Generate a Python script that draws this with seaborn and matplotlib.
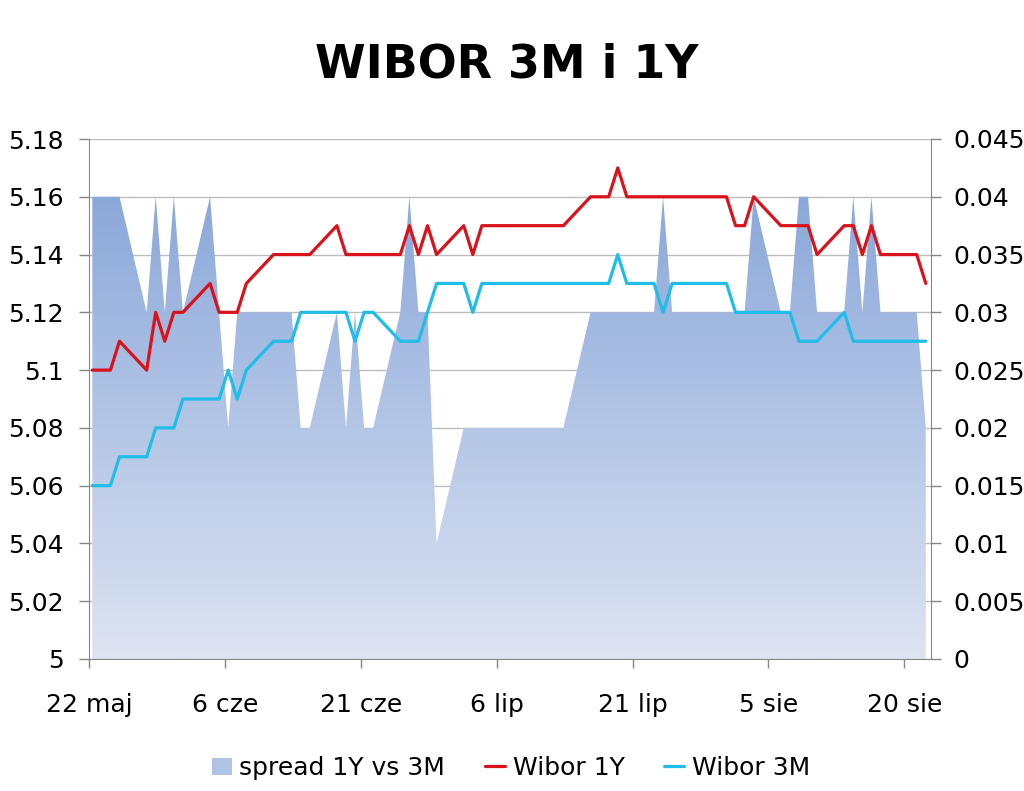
import numpy as np
import pandas as pd
import matplotlib
matplotlib.use('Agg')
import matplotlib.pyplot as plt
import matplotlib.dates as mdates
from matplotlib.colors import LinearSegmentedColormap
from matplotlib.patches import Patch
from matplotlib.lines import Line2D
import seaborn as sns

# --- data (business days 22 May - 22 Aug 2012) ---
dates = pd.bdate_range('2012-05-22', '2012-08-22')

wibor_1y = [
    5.10, 5.10, 5.10, 5.11, 5.10, 5.12, 5.11, 5.12,                      # maj
    5.12, 5.13, 5.12, 5.12, 5.12, 5.13, 5.14, 5.14, 5.14, 5.14, 5.14,
    5.15, 5.14, 5.14, 5.14, 5.14, 5.14, 5.15, 5.14, 5.15, 5.14,          # cze
    5.15, 5.14, 5.15, 5.15, 5.15, 5.15, 5.15, 5.15, 5.15, 5.15,
    5.16, 5.16, 5.16, 5.17, 5.16, 5.16, 5.16, 5.16, 5.16, 5.16, 5.16, 5.16,  # lip
    5.15, 5.15, 5.16, 5.15, 5.15, 5.15, 5.15, 5.14, 5.15, 5.15, 5.14,
    5.15, 5.14, 5.14, 5.14, 5.13,                                        # sie
]

wibor_3m = [
    5.06, 5.06, 5.06, 5.07, 5.07, 5.08, 5.08, 5.08,
    5.09, 5.09, 5.09, 5.10, 5.09, 5.10, 5.11, 5.11, 5.11, 5.12, 5.12,
    5.12, 5.12, 5.11, 5.12, 5.12, 5.11, 5.11, 5.11, 5.12, 5.13,
    5.13, 5.12, 5.13, 5.13, 5.13, 5.13, 5.13, 5.13, 5.13, 5.13,
    5.13, 5.13, 5.13, 5.14, 5.13, 5.13, 5.12, 5.13, 5.13, 5.13, 5.13, 5.13,
    5.12, 5.12, 5.12, 5.12, 5.12, 5.11, 5.11, 5.11, 5.12, 5.11, 5.11,
    5.11, 5.11, 5.11, 5.11, 5.11,
]

spread = [
    0.04, 0.04, 0.04, 0.04, 0.03, 0.04, 0.03, 0.04,
    0.03, 0.04, 0.03, 0.02, 0.03, 0.03, 0.03, 0.03, 0.03, 0.02, 0.02,
    0.03, 0.02, 0.03, 0.02, 0.02, 0.03, 0.04, 0.03, 0.03, 0.01,
    0.02, 0.02, 0.02, 0.02, 0.02, 0.02, 0.02, 0.02, 0.02, 0.02,
    0.03, 0.03, 0.03, 0.03, 0.03, 0.03, 0.04, 0.03, 0.03, 0.03, 0.03, 0.03,
    0.03, 0.03, 0.04, 0.03, 0.03, 0.04, 0.04, 0.03, 0.03, 0.04, 0.03,
    0.04, 0.03, 0.03, 0.03, 0.02,
]

tick_dates = pd.to_datetime(['2012-05-22', '2012-06-06', '2012-06-21', '2012-07-06',
                             '2012-07-21', '2012-08-05', '2012-08-20'])
tick_labels = ['22 maj', '6 cze', '21 cze', '6 lip', '21 lip', '5 sie', '20 sie']

rate_ticks = [5.0, 5.02, 5.04, 5.06, 5.08, 5.10, 5.12, 5.14, 5.16, 5.18]
rate_labels = ['5', '5.02', '5.04', '5.06', '5.08', '5.1', '5.12', '5.14', '5.16', '5.18']
spread_ticks = [0, 0.005, 0.01, 0.015, 0.02, 0.025, 0.03, 0.035, 0.04, 0.045]
spread_labels = ['0', '0.005', '0.01', '0.015', '0.02', '0.025', '0.03', '0.035', '0.04', '0.045']

RED = '#D9131B'
CYAN = '#1FBDE8'
GREY = '#868686'

sns.set_style('white')
plt.rcParams['font.family'] = ['DejaVu Sans']
plt.rcParams['text.color'] = 'black'

fig = plt.figure(figsize=(10.24, 7.91), dpi=100)
ax = fig.add_axes([89 / 1024, 1 - 659 / 791, (931 - 89) / 1024, (659 - 139) / 791])
ax_r = ax.twinx()
ax.set_zorder(ax_r.get_zorder() + 1)
ax.patch.set_visible(False)

# Excel puts the category ticks a little left of the data points
x_min = pd.Timestamp('2012-05-21 15:15')
x_max = pd.Timestamp('2012-08-22 13:50')
tick_shift = pd.Timedelta(hours=8.7)

# spread area on the right axis, gradient fill
ax_r.set_ylim(0, 0.045)
ax_r.grid(axis='y', color='#BDBDBD', lw=1)
ax_r.set_axisbelow(True)
area = ax_r.fill_between(dates, spread, 0, facecolor='none', edgecolor='none', zorder=2)
grad = np.linspace(0, 1, 256).reshape(-1, 1)
cmap = LinearSegmentedColormap.from_list('spread', ['#DDE4F2', '#8BA8DA'])
img = ax_r.imshow(grad, extent=[mdates.date2num(x_min), mdates.date2num(x_max), 0, max(spread)],
                  origin='lower', aspect='auto', cmap=cmap, zorder=2)
img.set_clip_path(area.get_paths()[0], transform=ax_r.transData)

# WIBOR lines on the left axis
sns.lineplot(x=dates, y=wibor_1y, ax=ax, color=RED, lw=2.3, legend=False)
sns.lineplot(x=dates, y=wibor_3m, ax=ax, color=CYAN, lw=2.3, legend=False)

ax.set_xlim(x_min, x_max)
ax.set_ylim(5, 5.18)
ax_r.set_ylim(0, 0.045)
ax.set_yticks(rate_ticks)
ax.set_yticklabels(rate_labels)
ax_r.set_yticks(spread_ticks)
ax_r.set_yticklabels(spread_labels)
ax.set_xticks(tick_dates - tick_shift)
ax.set_xticklabels(tick_labels)
ax.set_xlabel('')
ax.set_ylabel('')

for s in ['top', 'right']:
    ax.spines[s].set_visible(False)
for s in ['top', 'left', 'bottom']:
    ax_r.spines[s].set_visible(False)
ax.spines['left'].set_color(GREY)
ax.spines['bottom'].set_color(GREY)
ax_r.spines['right'].set_color(GREY)

ax.tick_params(axis='y', direction='out', length=7, width=1, color=GREY, labelcolor='black',
               labelsize=18, pad=11, left=True)
ax.tick_params(axis='x', direction='out', length=6.5, width=1, color=GREY, labelcolor='black',
               labelsize=18, pad=18, bottom=True)
ax_r.tick_params(axis='y', direction='out', length=7, width=1, color=GREY, labelcolor='black',
                 labelsize=18, pad=9, right=True)

fig.text(0.495, 1 - 78 / 791, 'WIBOR 3M i 1Y', ha='center', va='baseline',
         fontsize=33, fontweight='bold', color='black')

handles = [Patch(facecolor='#B0C3E6', edgecolor='none'),
           Line2D([], [], color=RED, lw=2.3),
           Line2D([], [], color=CYAN, lw=2.3)]
labels = ['spread 1Y vs 3M', 'Wibor 1Y', 'Wibor 3M']
leg = fig.legend(handles, labels, loc='center', bbox_to_anchor=(0.499, 0.029), ncol=3,
                 frameon=False, fontsize=18, handlelength=0.8, handleheight=0.7,
                 handletextpad=0.3, columnspacing=1.6)
for t in leg.get_texts():
    t.set_color('black')

fig.savefig('out.png', dpi=100)
